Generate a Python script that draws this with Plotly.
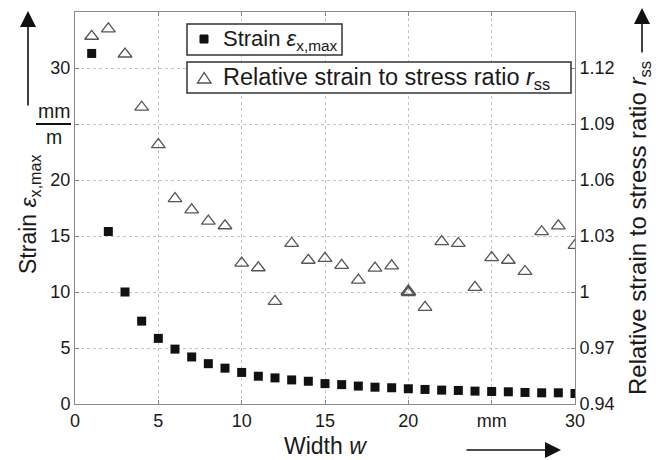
import plotly.graph_objects as go

# ---- data ----
width_w = list(range(1, 31))
strain_max = [31.3, 15.4, 10.0, 7.4, 5.86, 4.9, 4.2, 3.6, 3.2, 2.82,
              2.48, 2.33, 2.15, 2.03, 1.82, 1.73, 1.6, 1.5, 1.45, 1.36,
              1.3, 1.24, 1.21, 1.15, 1.12, 1.09, 1.03, 1.0, 1.0, 0.94]
ratio_rss = [1.137, 1.141, 1.1275, 1.099, 1.079, 1.050, 1.044, 1.038, 1.0355, 1.0155,
             1.013, 0.995, 1.026, 1.017, 1.018, 1.0143, 1.0064, 1.0128, 1.014, 1.000,
             0.9918, 1.027, 1.026, 1.0025, 1.0184, 1.017, 1.011, 1.0323, 1.0354, 1.025]
reference_w = 20

x_tickvals = [0, 5, 10, 15, 20, 25, 30]
x_ticktext = ["0", "5", "10", "15", "20", "mm", "30"]
y_tickvals = [0, 5, 10, 15, 20, 25, 30]
y_ticktext = ["0", "5", "10", "15", "20", "", "30"]
y2_tickvals = [0.94, 0.97, 1.00, 1.03, 1.06, 1.09, 1.12]
y2_ticktext = ["0.94", "0.97", "1", "1.03", "1.06", "1.09", "1.12"]

legend_labels = ["Strain <i>ε</i><sub>x,max</sub>",
                 "Relative strain to stress ratio <i>r</i><sub>ss</sub>"]

FONT = "Liberation Sans, Arial, Helvetica, sans-serif"
TXT = "#1a1a1a"
GRID = "#c4c4c4"
AX = "#8a8a8a"

line_widths = [2.6 if w == reference_w else 1.3 for w in width_w]
line_colors = ["#111111" if w == reference_w else "#555555" for w in width_w]

fig = go.Figure()
fig.add_trace(go.Scatter(
    x=width_w, y=strain_max, mode="markers", name=legend_labels[0],
    marker=dict(symbol="square", size=9, color="#111111"),
))
fig.add_trace(go.Scatter(
    x=width_w, y=ratio_rss, mode="markers", yaxis="y2", name=legend_labels[1],
    marker=dict(symbol="triangle-up-open", size=12, color="#555555",
                line=dict(width=line_widths, color=line_colors)),
))

axis_common = dict(
    showline=True, linecolor=AX, linewidth=1,
    ticks="inside", ticklen=4, tickcolor=AX,
    showgrid=True, gridcolor=GRID, griddash="dot", gridwidth=1,
    zeroline=False, tickfont=dict(family=FONT, size=18, color=TXT),
    automargin=False,
)

fig.update_layout(
    width=656, height=460,
    margin=dict(l=75, r=81, t=12, b=56),
    paper_bgcolor="white", plot_bgcolor="white",
    font=dict(family=FONT, color=TXT),
    showlegend=False,
    xaxis=dict(range=[0, 30], tickmode="array", tickvals=x_tickvals, ticktext=x_ticktext,
               mirror="ticks", **axis_common),
    yaxis=dict(range=[0, 35], tickmode="array", tickvals=y_tickvals, ticktext=y_ticktext,
               mirror=True, **axis_common),
    yaxis2=dict(range=[0.94, 1.15], tickmode="array", tickvals=y2_tickvals, ticktext=y2_ticktext,
                overlaying="y", side="right", showline=True, linecolor=AX, linewidth=1,
                ticks="inside", ticklen=4, tickcolor=AX, showgrid=False, zeroline=False,
                tickfont=dict(family=FONT, size=18, color=TXT), automargin=False),
)

def px_x(X):
    return (X - 75) / 500.0

def px_y(Y):
    return (404 - Y) / 392.0

annotations = [
    # axis titles
    dict(text="Strain <i>ε</i><sub>x,max</sub>", x=px_x(29), y=px_y(214), textangle=-90,
         font=dict(family=FONT, size=23, color=TXT)),
    dict(text="Relative strain to stress ratio <i>r</i><sub>ss</sub>", x=px_x(640), y=px_y(228),
         textangle=-90, font=dict(family=FONT, size=24, color=TXT)),
    dict(text="Width <i>w</i>", x=px_x(325), y=px_y(446),
         font=dict(family=FONT, size=23, color=TXT)),
    # unit fraction on left axis
    dict(text="mm", x=px_x(54), y=px_y(111), font=dict(family=FONT, size=19.5, color=TXT)),
    dict(text="m", x=px_x(54), y=px_y(137), font=dict(family=FONT, size=19.5, color=TXT)),
    # legend texts
    dict(text=legend_labels[0], x=px_x(221), y=px_y(40), xanchor="left",
         font=dict(family=FONT, size=22, color=TXT)),
    dict(text=legend_labels[1], x=px_x(221), y=px_y(78), xanchor="left",
         font=dict(family=FONT, size=23.5, color=TXT)),
    # arrows
    dict(text="", x=px_x(28), y=px_y(11), ax=0, ay=96, showarrow=True,
         arrowhead=2, arrowsize=2, arrowwidth=1.6, arrowcolor="#111111"),
    dict(text="", x=px_x(642), y=px_y(8), ax=0, ay=46, showarrow=True,
         arrowhead=2, arrowsize=2, arrowwidth=1.6, arrowcolor="#111111"),
    dict(text="", x=px_x(561), y=px_y(450), ax=-96, ay=0, showarrow=True,
         arrowhead=2, arrowsize=2, arrowwidth=1.6, arrowcolor="#111111"),
]
for a in annotations:
    a.setdefault("showarrow", False)
    a.setdefault("xanchor", "center")
    a.setdefault("yanchor", "middle")
    a["xref"] = "paper"
    a["yref"] = "paper"
fig.update_layout(annotations=annotations)

# fraction bar of the unit mm/m
fig.add_shape(type="line", xref="paper", yref="paper",
              x0=px_x(36), x1=px_x(71), y0=px_y(124), y1=px_y(124),
              line=dict(color="#111111", width=2))
# legend boxes
for (X0, Y0, X1, Y1) in [(187, 24, 342, 55), (187, 62, 571, 93)]:
    fig.add_shape(type="rect", xref="paper", yref="paper",
                  x0=px_x(X0), x1=px_x(X1), y0=px_y(Y0), y1=px_y(Y1),
                  line=dict(color="#333333", width=1.5), fillcolor="white", layer="above")
# legend keys
fig.add_shape(type="rect", xref="paper", yref="paper",
              x0=px_x(200), x1=px_x(208), y0=px_y(35), y1=px_y(43),
              line=dict(color="#111111", width=1), fillcolor="#111111", layer="above")
tri = "M {:.4f},{:.4f} L {:.4f},{:.4f} L {:.4f},{:.4f} Z".format(
    px_x(197.5), px_y(83), px_x(211), px_y(83), px_x(204.2), px_y(72.5))
fig.add_shape(type="path", xref="paper", yref="paper", path=tri,
              line=dict(color="#555555", width=1.4), fillcolor="rgba(0,0,0,0)", layer="above")

fig.write_html("out.html", config={"displayModeBar": False},
               post_script="document.body.style.margin='0';")
